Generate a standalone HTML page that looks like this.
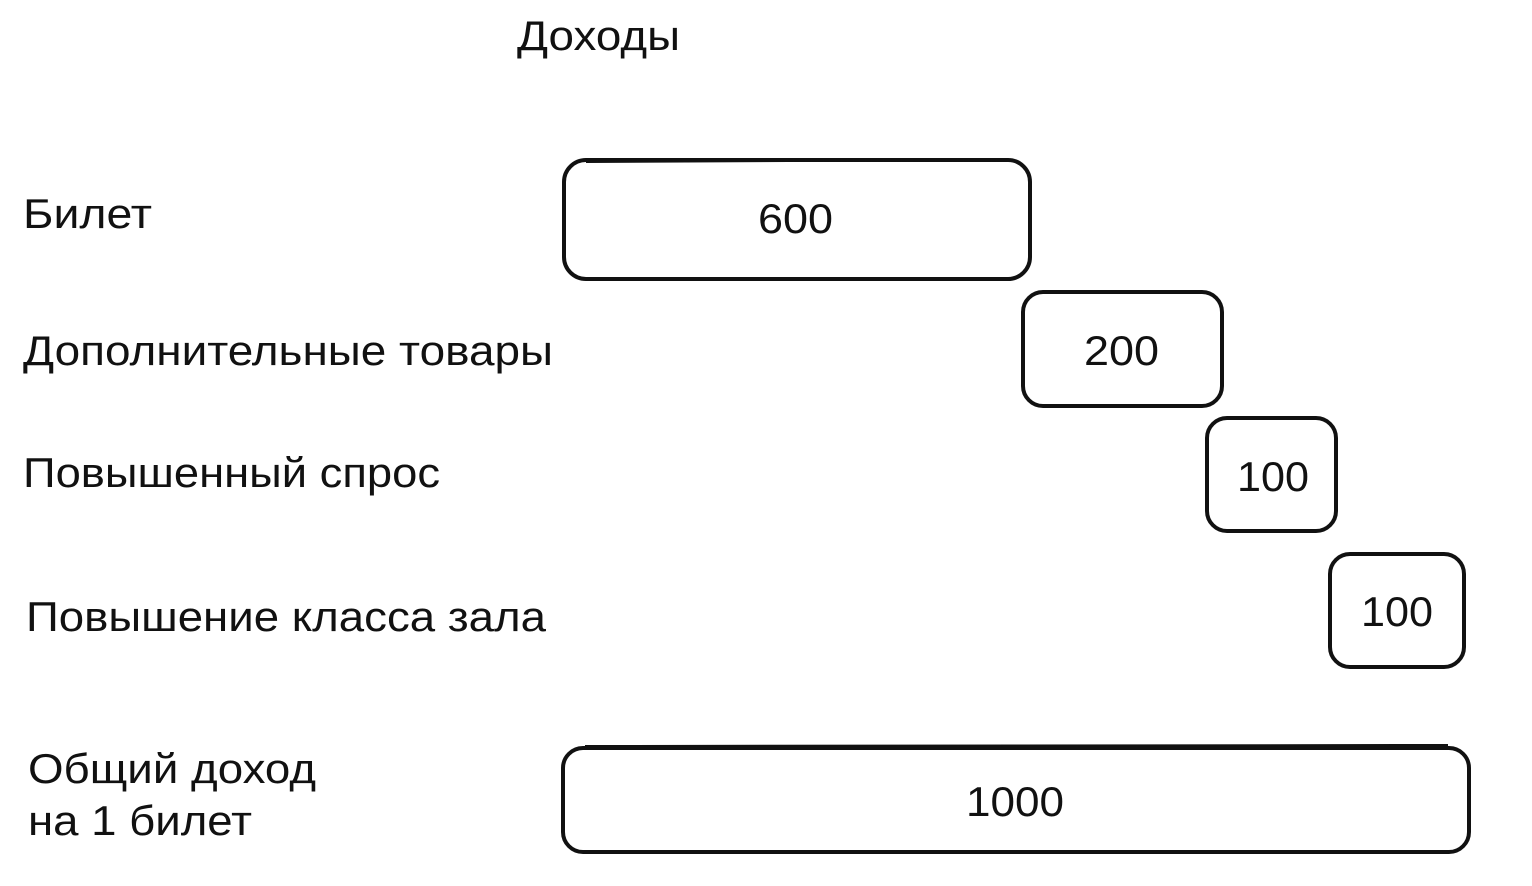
<!DOCTYPE html>
<html><head><meta charset="utf-8"><style>
html,body{margin:0;padding:0;background:#fff;width:1532px;height:886px;overflow:hidden}
text{font-family:"Liberation Sans","DejaVu Sans",sans-serif;fill:#111}
</style></head><body>
<svg width="1532" height="886" viewBox="0 0 1532 886" xmlns="http://www.w3.org/2000/svg">
<g fill="none" stroke="#111" stroke-width="4" stroke-linejoin="round">
<rect x="564" y="160" width="466" height="119" rx="22"/>
<path d="M586 162 L1008 160" stroke-width="2"/>
<rect x="1023" y="292" width="199" height="114" rx="20"/>
<rect x="1207" y="418" width="129" height="113" rx="20"/>
<rect x="1330" y="554" width="134" height="113" rx="20"/>
<rect x="563" y="748" width="906" height="104" rx="20"/>
<path d="M585 746 L1448 745" stroke-width="2"/>
</g>
<g font-size="42" lengthAdjust="spacingAndGlyphs">
<text x="517" y="50" textLength="163" lengthAdjust="spacingAndGlyphs">Доходы</text>
<text x="23" y="228" textLength="129" lengthAdjust="spacingAndGlyphs">Билет</text>
<text x="23" y="365" textLength="530" lengthAdjust="spacingAndGlyphs">Дополнительные товары</text>
<text x="23" y="487" textLength="417" lengthAdjust="spacingAndGlyphs">Повышенный спрос</text>
<text x="26" y="631" textLength="520" lengthAdjust="spacingAndGlyphs">Повышение класса зала</text>
<text x="28" y="783" textLength="288" lengthAdjust="spacingAndGlyphs">Общий доход</text>
<text x="28" y="835" textLength="224" lengthAdjust="spacingAndGlyphs">на 1 билет</text>
</g>
<g font-size="42">
<text x="758" y="233" textLength="75" lengthAdjust="spacingAndGlyphs">600</text>
<text x="1084" y="365" textLength="75" lengthAdjust="spacingAndGlyphs">200</text>
<text x="1237" y="491" textLength="72" lengthAdjust="spacingAndGlyphs">100</text>
<text x="1361" y="626" textLength="72" lengthAdjust="spacingAndGlyphs">100</text>
<text x="966" y="816" textLength="98" lengthAdjust="spacingAndGlyphs">1000</text>
</g>
</svg>
</body></html>
